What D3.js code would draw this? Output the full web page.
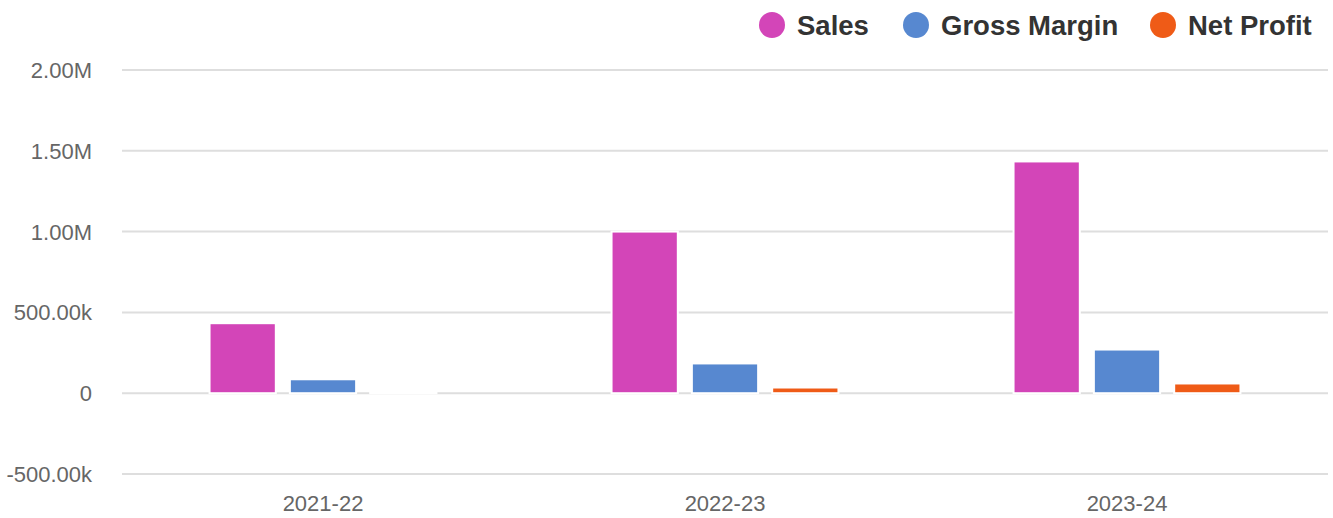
<!DOCTYPE html>
<html>
<head>
<meta charset="utf-8">
<script src="https://cdn.jsdelivr.net/npm/d3@7"></script>
<style>
  body { margin: 0; background: #fff; }
  svg { display: block; font-family: "Liberation Sans", Arial, Helvetica, sans-serif; }
</style>
</head>
<body>
<script>
// chart data
var years = ["2021-22", "2022-23", "2023-24"];
var seriesNames = ["Sales", "Gross Margin", "Net Profit"];
var sales = [427000, 994000, 1428000];
var grossMargin = [80000, 178000, 264000];
var netProfit = [1000, 29000, 54000];
var yTicks = [-500000, 0, 500000, 1000000, 1500000, 2000000];

var colors = ["#d345b8", "#5788d0", "#ef5b17"];

var width = 1333, height = 518;
// plot box (note: "top" is taken by window.top, so use other names)
var plotLeft = 122, plotRight = 1328, plotTop = 70, plotBottom = 474;

var svg = d3.select("body").append("svg")
    .attr("width", width)
    .attr("height", height);

var x0 = d3.scaleBand().domain(years).range([plotLeft, plotRight]);
// white outline eats 1px of each bar, so bands are a bit wider
var x1 = d3.scaleBand().domain(seriesNames)
    .range([0, x0.bandwidth()])
    .paddingInner(0.175)
    .paddingOuter(1.09);
var y = d3.scaleLinear().domain([-500000, 2000000]).range([plotBottom, plotTop]);

function fmt(v) {
  if (v == 0) return "0";
  var a = Math.abs(v);
  if (a >= 1e6) return (v / 1e6).toFixed(2) + "M";
  return (v / 1e3).toFixed(2) + "k";
}

// gridlines
svg.append("g").selectAll("line")
    .data(yTicks)
    .enter().append("line")
    .attr("x1", plotLeft).attr("x2", plotRight)
    .attr("y1", function(d){ return y(d); })
    .attr("y2", function(d){ return y(d); })
    .attr("stroke", "#dedede")
    .attr("stroke-width", 2);

// y axis labels
svg.append("g").selectAll("text")
    .data(yTicks)
    .enter().append("text")
    .attr("x", 92)
    .attr("y", function(d){ return y(d); })
    .attr("dy", "0.36em")
    .attr("text-anchor", "end")
    .attr("fill", "#666")
    .style("font-size", "22px")
    .text(fmt);

// x axis labels
svg.append("g").selectAll("text")
    .data(years)
    .enter().append("text")
    .attr("x", function(d){ return x0(d) + x0.bandwidth() / 2; })
    .attr("y", 511)
    .attr("text-anchor", "middle")
    .attr("fill", "#666")
    .style("font-size", "22px")
    .text(function(d){ return d; });

// bars
var values = [sales, grossMargin, netProfit];
var rows = [];
for (var i = 0; i < years.length; i++) {
  for (var j = 0; j < seriesNames.length; j++) {
    rows.push({ year: years[i], s: seriesNames[j], idx: j, v: values[j][i] });
  }
}

svg.append("g").selectAll("rect")
    .data(rows)
    .enter().append("rect")
    .attr("x", function(d){ return x0(d.year) + x1(d.s); })
    .attr("width", x1.bandwidth())
    .attr("y", function(d){ return y(Math.max(0, d.v)) - 1; })
    .attr("height", function(d){ return Math.abs(y(d.v) - y(0)) + 1; })
    .attr("fill", function(d){ return colors[d.idx]; })
    .attr("stroke", "#fff")
    .attr("stroke-width", 2);

// legend
var legendX = [772, 916, 1163];
var leg = svg.append("g").selectAll("g")
    .data(seriesNames)
    .enter().append("g")
    .attr("transform", function(d, i){ return "translate(" + legendX[i] + ",25)"; });
leg.append("circle")
    .attr("r", 13)
    .attr("fill", function(d, i){ return colors[i]; });
leg.append("text")
    .attr("x", 25)
    .attr("y", 10)
    .attr("fill", "#333")
    .style("font-size", "27.5px")
    .style("font-weight", "bold")
    .text(function(d){ return d; });
</script>
</body>
</html>
